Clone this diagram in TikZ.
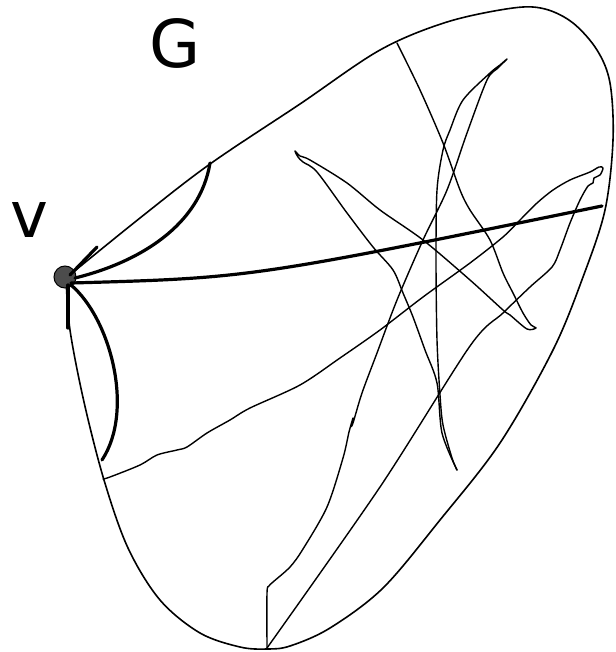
\documentclass[tikz,border=0pt]{standalone}
\usepackage{fontspec}
\setmainfont{DejaVu Sans}
\begin{document}
\begin{tikzpicture}[x=1pt,y=-1pt,
  outline/.style={line width=1.6pt,line join=round},
  thin/.style={line width=1.4pt,line join=round,line cap=round},
  thick/.style={line width=3.2pt,line cap=round},
  lbl/.style={inner sep=0pt}]
\useasboundingbox (0,0) rectangle (615,652);
% outline of G
\draw[outline] plot[smooth,tension=0.55] coordinates {
 (66,278) (140,218) (210,164) (300,104) (380,50) (447,22) (513,8) (545,9) (573,23) (597,50) (610,83) (613,140) (605,210) (583,277) (553,350) (500,443) (440,520) (383,588) (330,628) (290,646) (267,649) (240,647) (200,633) (160,600) (128,548) (104,480) (84,402) (70,330) (66,278)};
% curve A
\draw[thin] plot[smooth,tension=0.5] coordinates {
 (103,479) (110,477) (140,465) (157,455) (177,450) (187,447) (207,433) (230,420) (250,408) (300,385) (340,358) (380,330) (423,297) (470,263) (503,237) (520,220) (537,203) (553,190) (570,180) (590,172) (599,167) (603,168) (600,175) (594,178) (593,183) (588,186) (580,200) (570,223) (560,250) (552,267) (530,287) (503,313) (470,346) (380,487) (267,648)};
% curve B
\draw[thin] plot[smooth,tension=0.5] coordinates {
 (267,648) (267,593) (269,586) (273,582) (290,567) (303,549) (327,507) (343,458) (349,432) (353,418) (351,426) (353,423) (362,393) (377,353) (397,300) (423,240) (447,190) (467,133) (487,80) (498,68) (507,59) (500,65) (490,73) (463,100) (450,130) (443,150) (437,190) (436,260) (437,340) (440,395) (443,425) (452,458) (457,470)};
% curve C
\draw[thin] plot[smooth,tension=0.5] coordinates {
 (397,43) (420,90) (443,143) (460,190) (470,210) (490,240) (503,273) (513,293) (523,313) (531,325) (536,328) (527,329) (510,315) (503,310) (470,280) (423,240) (380,210) (347,183) (310,160) (300,156) (295,151) (298,157) (303,162) (317,172) (347,213) (373,247) (393,270) (403,293) (413,317) (425,350) (437,383) (442,433) (457,470)};
% vertex v
\node[circle,draw=black,line width=1pt,fill=black!70,minimum size=22pt,inner sep=0pt] (v) at (65,277) {};
\coordinate (e1) at (97,247);
\coordinate (e2) at (210,163);
\coordinate (e3) at (602,206);
\coordinate (e4) at (68,328);
\coordinate (e5) at (102,460);
\draw[thick] (v.center) ++(5,-2) -- (e1);
\draw[thick] (v.center) ++(10,1) .. controls (140,262) and (200,225) .. (e2);
\draw[thick] (v.center) ++(6,6) .. controls (250,278) .. (e3);
\draw[thick] (v.center) ++(3,8) -- (e4);
\draw[thick] (v.center) ++(6,8) .. controls (110,318) and (135,410) .. (e5);
% labels
\node[lbl,font=\fontsize{66}{66}\selectfont] (G) at (175,43) {G};
\node[lbl,font=\fontsize{64}{64}\selectfont] (vl) at (29,220) {v};
\end{tikzpicture}
\end{document}
